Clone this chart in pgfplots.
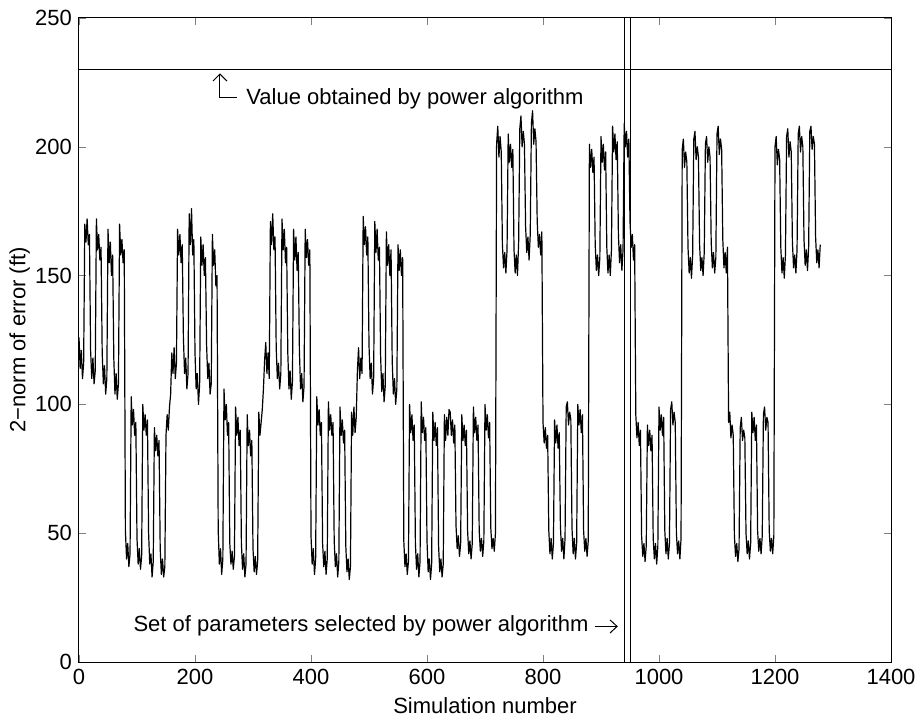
\documentclass[border=0pt]{standalone}
\usepackage{fontspec}
\setmainfont{Liberation Sans}
\usepackage{pgfplots}
\pgfplotsset{compat=1.18}
\usetikzlibrary{arrows.meta}
\begin{document}
\begin{tikzpicture}[font=\fontsize{11}{13.2}\selectfont]
\begin{axis}[name=ax, scale only axis, width=406pt, height=322pt,
 xmin=0, xmax=1400, ymin=0, ymax=250,
 xtick={0,200,...,1400}, ytick={0,50,...,250},
 tick align=inside, major tick length=3.5pt,
 /pgf/number format/assume math mode=true,
 /pgf/number format/1000 sep={},
 tick label style={font=\fontsize{11}{13.2}\selectfont},
 xlabel={Simulation number}, ylabel={2−norm of error (ft)},
 x label style={at={(axis description cs:0.5,-0.067)}, anchor=center},
 y label style={at={(axis description cs:-0.073,0.5)}, anchor=center},
 axis line style={line width=0.5pt},
 clip=false]
\addplot[black, line width=0.6pt, line join=round, mark=none] table[x expr=2*\coordindex, y index=0, header=false, row sep=\\] {
126\\114\\121\\110\\116\\170\\163\\172\\162\\166\\121\\110\\118\\108\\113\\172\\160\\166\\156\\161\\120\\108\\115\\104\\110\\168\\155\\163\\150\\158\\118\\104\\112\\102\\108\\170\\158\\164\\155\\160\\
51\\40\\46\\37\\42\\103\\92\\98\\88\\93\\48\\38\\44\\36\\41\\100\\90\\96\\88\\94\\50\\38\\42\\33\\39\\91\\82\\88\\80\\86\\44\\34\\40\\33\\37\\88\\96\\90\\99\\104\\
120\\112\\122\\110\\116\\168\\158\\166\\155\\162\\126\\112\\118\\106\\112\\174\\162\\176\\158\\164\\120\\106\\112\\100\\108\\165\\154\\162\\150\\157\\123\\110\\116\\104\\108\\166\\154\\160\\146\\150\\
51\\38\\44\\34\\40\\106\\94\\100\\88\\93\\46\\38\\43\\36\\41\\99\\88\\95\\84\\90\\46\\36\\42\\33\\38\\96\\84\\90\\80\\86\\44\\35\\41\\34\\39\\97\\88\\93\\98\\106\\
117\\124\\112\\120\\110\\171\\162\\174\\160\\165\\122\\110\\116\\106\\112\\172\\160\\168\\155\\161\\120\\106\\113\\102\\109\\168\\156\\165\\152\\159\\121\\106\\112\\101\\107\\168\\157\\164\\154\\160\\
49\\38\\44\\34\\40\\103\\92\\98\\88\\93\\46\\37\\43\\34\\40\\101\\90\\96\\88\\93\\47\\37\\42\\33\\39\\99\\88\\94\\85\\90\\45\\35\\40\\32\\37\\97\\88\\99\\89\\95\\
113\\122\\110\\118\\112\\173\\162\\169\\158\\165\\123\\110\\116\\104\\110\\171\\159\\168\\156\\161\\119\\105\\112\\101\\107\\167\\154\\162\\150\\160\\117\\104\\110\\100\\106\\162\\152\\160\\150\\157\\
47\\37\\42\\34\\39\\100\\89\\96\\86\\92\\46\\36\\42\\33\\39\\101\\89\\95\\86\\91\\47\\35\\40\\32\\38\\97\\86\\93\\84\\91\\45\\35\\40\\33\\38\\96\\86\\95\\88\\98\\
97\\88\\94\\85\\92\\53\\44\\49\\41\\46\\96\\86\\92\\84\\90\\51\\42\\47\\40\\46\\99\\89\\95\\86\\92\\51\\43\\48\\41\\47\\100\\90\\96\\87\\93\\52\\44\\48\\43\\50\\
201\\208\\196\\204\\198\\162\\153\\159\\151\\160\\205\\194\\201\\192\\199\\160\\151\\158\\150\\163\\207\\212\\200\\206\\201\\169\\159\\165\\156\\166\\209\\214\\201\\207\\202\\171\\161\\166\\158\\167\\
93\\85\\91\\83\\88\\51\\42\\48\\40\\46\\94\\85\\92\\83\\89\\53\\43\\48\\40\\48\\99\\101\\92\\97\\94\\52\\42\\48\\40\\46\\100\\92\\98\\89\\96\\51\\43\\48\\41\\47\\
201\\192\\199\\190\\196\\162\\152\\158\\150\\157\\204\\194\\201\\191\\198\\161\\151\\158\\150\\160\\208\\198\\205\\195\\202\\166\\155\\162\\152\\160\\209\\200\\206\\196\\203\\171\\161\\166\\156\\162\\
96\\87\\93\\84\\90\\49\\41\\46\\39\\45\\92\\84\\90\\82\\88\\48\\40\\46\\38\\45\\99\\90\\96\\88\\95\\51\\42\\48\\40\\46\\98\\101\\92\\97\\93\\50\\42\\47\\40\\48\\
199\\203\\192\\198\\194\\161\\151\\157\\149\\158\\203\\206\\195\\200\\196\\162\\152\\157\\150\\159\\201\\204\\194\\200\\196\\163\\153\\159\\151\\157\\205\\208\\197\\203\\199\\164\\153\\159\\151\\161\\
93\\97\\87\\92\\88\\49\\41\\46\\39\\44\\91\\95\\86\\90\\87\\50\\42\\47\\40\\46\\97\\89\\95\\86\\92\\51\\43\\48\\42\\49\\96\\99\\90\\95\\93\\51\\43\\48\\42\\49\\
200\\204\\193\\199\\195\\161\\151\\157\\149\\158\\204\\207\\196\\202\\198\\163\\153\\158\\151\\160\\205\\208\\198\\204\\200\\164\\154\\160\\152\\161\\206\\208\\199\\204\\201\\165\\155\\160\\153\\162\\
};
\addplot[black, line width=0.5pt, mark=none] coordinates {(0,230) (1400,230)};
\addplot[black, line width=0.5pt, mark=none] coordinates {(940.5,0) (940.5,250)};
\addplot[black, line width=0.5pt, mark=none] coordinates {(950,0) (950,250)};
\draw[-{Straight Barb[length=3.5pt,width=7pt]}, line width=0.5pt] (axis cs:272,219.3) -- (axis cs:243,219.3) -- (axis cs:243,228.5);
\node[anchor=base west, inner sep=0pt] at (axis cs:288,216.6) {Value obtained by power algorithm};
\node[anchor=base east, inner sep=0pt] at (axis cs:879,11.8) {Set of parameters selected by power algorithm};
\draw[-{Straight Barb[length=3.5pt,width=6.5pt]}, line width=0.5pt] (axis cs:889,13.8) -- (axis cs:929,13.8);
\end{axis}
\pgfresetboundingbox
\path (ax.south west) ++(-39.5pt,-30pt) rectangle ([shift={(14.5pt,9pt)}]ax.north east);
\end{tikzpicture}
\end{document}
